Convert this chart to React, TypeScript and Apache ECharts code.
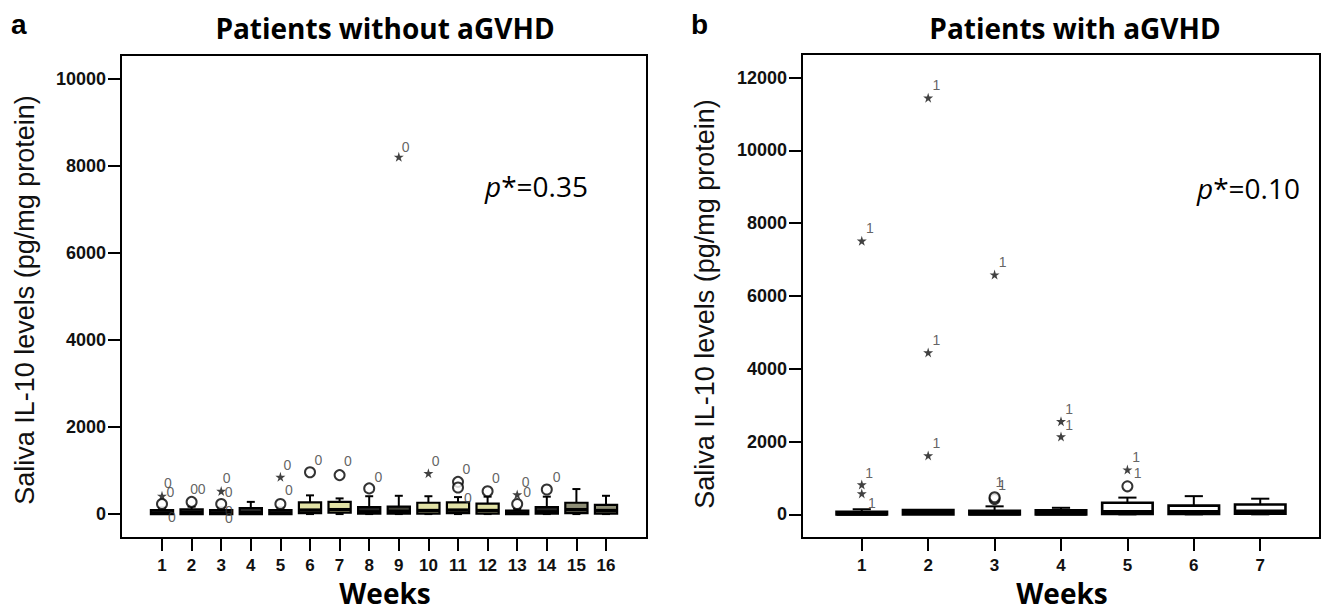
import React, { useEffect, useRef } from "react";
import * as echarts from "echarts";

// ---------- Panel a: patients without aGVHD ----------
const weeksA = [1, 2, 3, 4, 5, 6, 7, 8, 9, 10, 11, 12, 13, 14, 15, 16];
const minA = [0, 0, 0, 0, 0, 0, 0, 0, 0, 0, 0, 0, 0, 0, 0, 0];
const q1A = [0, 0, 0, 0, 0, 20, 30, 10, 10, 10, 20, 10, 0, 10, 20, 10];
const medA = [20, 30, 20, 30, 20, 90, 100, 50, 60, 80, 90, 80, 20, 50, 100, 80];
const q3A = [90, 110, 90, 140, 90, 270, 280, 160, 170, 260, 270, 240, 80, 160, 260, 210];
const maxA = [150, 170, 150, 280, 150, 430, 360, 410, 420, 410, 390, 400, 120, 400, 575, 420];
const circlesA = [[1, 230], [2, 280], [3, 230], [5, 230], [6, 960], [7, 895], [8, 590], [11, 740], [11, 610], [12, 525], [13, 230], [14, 565]];
const starsA = [[1, 420], [3, 530], [5, 855], [9, 8210], [10, 940], [13, 450]];
const caseLabelsA = [
  [1.22, 700], [1.3, 495], [1.35, -90],
  [2.1, 560], [2.36, 560],
  [3.2, 810], [3.27, 490], [3.28, 60], [3.28, -100],
  [5.25, 1120], [5.3, 550],
  [6.3, 1240], [7.3, 1200], [8.33, 850], [9.25, 8430],
  [10.26, 1200], [11.3, 1030], [11.35, 365], [12.3, 825],
  [13.3, 730], [13.35, 500], [14.35, 850],
];
const yTicksA = [0, 2000, 4000, 6000, 8000, 10000];

// ---------- Panel b: patients with aGVHD ----------
const weeksB = [1, 2, 3, 4, 5, 6, 7];
const minB = [0, 0, 0, 0, 0, 0, 0];
const q1B = [0, 0, 0, 0, 10, 10, 20];
const medB = [20, 50, 30, 30, 60, 60, 70];
const q3B = [70, 120, 100, 110, 320, 240, 270];
const maxB = [140, 120, 220, 180, 460, 500, 430];
const circlesB = [[3, 420], [3, 470], [5, 770]];
const starsB = [[1, 7520], [1, 820], [1, 575], [2, 11450], [2, 4450], [2, 1620], [3, 6590], [4, 2560], [4, 2140], [5, 1230]];
const caseLabelsB = [
  [1.13, 7850], [1.12, 1130], [1.16, 290],
  [2.13, 11780], [2.13, 4780], [2.13, 1950],
  [3.13, 6920], [3.08, 880], [3.12, 790],
  [4.13, 2890], [4.13, 2430],
  [5.14, 1560], [5.16, 1110],
];
const yTicksB = [0, 2000, 4000, 6000, 8000, 10000, 12000];

// ---------- styles (kept apart from the data) ----------
const DARK = "#262626";
const YEL = "#e2e2a6";
const OLIVE = "#8e8e76";
const fillsA = [DARK, DARK, DARK, DARK, DARK, YEL, YEL, DARK, "#3c3c34", YEL, YEL, YEL, DARK, DARK, OLIVE, OLIVE];
const fillsB = ["#ffffff", "#ffffff", "#ffffff", "#ffffff", "#ffffff", "#ffffff", "#ffffff"];

const STAR = "path://M50,0 L61,35 L98,35 L68,57 L79,91 L50,70 L21,91 L32,57 L2,35 L39,35 Z";

function boxRenderer(boxW: number, fills: string[], strokeW: number, medW: number) {
  return (params: any, api: any) => {
    const x = api.value(0);
    const mn = api.value(1);
    const q1 = api.value(2);
    const md = api.value(3);
    const q3 = api.value(4);
    const mx = api.value(5);
    const w = api.size([boxW, 0])[0];
    const capW = w * 0.36;
    const pMin = api.coord([x, mn]);
    const pQ1 = api.coord([x, q1]);
    const pMd = api.coord([x, md]);
    const pQ3 = api.coord([x, q3]);
    const pMax = api.coord([x, mx]);
    const cx = pMd[0];
    const st = { stroke: "#000", lineWidth: 2 };
    const children: any[] = [];
    if (mx > q3) {
      children.push({ type: "line", shape: { x1: cx, y1: pQ3[1], x2: cx, y2: pMax[1] }, style: st });
      children.push({ type: "line", shape: { x1: cx - capW / 2, y1: pMax[1], x2: cx + capW / 2, y2: pMax[1] }, style: st });
    }
    if (mn < q1) {
      children.push({ type: "line", shape: { x1: cx, y1: pQ1[1], x2: cx, y2: pMin[1] }, style: st });
      children.push({ type: "line", shape: { x1: cx - capW / 2, y1: pMin[1], x2: cx + capW / 2, y2: pMin[1] }, style: st });
    }
    children.push({
      type: "rect",
      shape: { x: cx - w / 2, y: pQ3[1], width: w, height: Math.max(pQ1[1] - pQ3[1], 1) },
      style: { fill: fills[params.dataIndex], stroke: "#000", lineWidth: strokeW },
    });
    children.push({ type: "line", shape: { x1: cx - w / 2, y1: pMd[1], x2: cx + w / 2, y2: pMd[1] }, style: { stroke: "#000", lineWidth: medW } });
    return { type: "group", children };
  };
}

function buildBoxData(weeks: number[], mn: number[], q1: number[], md: number[], q3: number[], mx: number[]) {
  return weeks.map((w, i) => [w, mn[i], q1[i], md[i], q3[i], mx[i]]);
}

export default function App() {
  const ref = useRef<HTMLDivElement>(null);
  useEffect(() => {
    if (!ref.current) return;
    const chart = echarts.init(ref.current, null, { renderer: "svg" });
    const axisFont = { fontFamily: "'Liberation Sans', Arial, sans-serif", fontSize: 17, fontWeight: "bold" as const, color: "#111" };
    const lineBlack = { color: "#000", width: 2 };
    const makeX = (gridIndex: number, min: number, max: number, ticks: number[]) => ({
      type: "value", gridIndex, min, max,
      axisLine: { show: true, onZero: false, lineStyle: lineBlack },
      axisTick: { show: true, length: 13, lineStyle: lineBlack, customValues: ticks },
      axisLabel: { ...axisFont, margin: 19, customValues: ticks, formatter: (v: number) => String(v) },
      splitLine: { show: false },
    });
    const makeY = (gridIndex: number, min: number, max: number, ticks: number[]) => ({
      type: "value", gridIndex, min, max,
      axisLine: { show: true, onZero: false, lineStyle: lineBlack },
      axisTick: { show: true, length: 13, lineStyle: lineBlack, customValues: ticks },
      axisLabel: { ...axisFont, fontSize: 18, margin: 15, customValues: ticks, formatter: (v: number) => String(v) },
      splitLine: { show: false },
    });
    const labelSeries = (xi: number, data: number[][], txt: string) => ({
      type: "scatter", xAxisIndex: xi, yAxisIndex: xi, data, symbolSize: 1, silent: true, z: 6,
      itemStyle: { color: "rgba(0,0,0,0)" },
      label: {
        show: true, position: [0, 0], align: "center", verticalAlign: "middle", formatter: txt,
        fontFamily: "'Liberation Sans', Arial, sans-serif", fontSize: 14, color: "#3a3a3a",
        textBorderWidth: 0,
      },
    });
    const circleSeries = (xi: number, data: number[][]) => ({
      type: "scatter", xAxisIndex: xi, yAxisIndex: xi, data, symbol: "circle", symbolSize: 10,
      itemStyle: { color: "#fff", borderColor: "#000", borderWidth: 2 }, z: 5,
    });
    const starSeries = (xi: number, data: number[][]) => ({
      type: "scatter", xAxisIndex: xi, yAxisIndex: xi, data, symbol: STAR, symbolSize: 10,
      itemStyle: { color: "#111" }, z: 5,
    });
    const boxSeries = (xi: number, data: number[][], bw: number, fills: string[], sw: number, mw: number) => ({
      type: "custom", xAxisIndex: xi, yAxisIndex: xi, data,
      encode: { x: 0, y: [1, 2, 3, 4, 5] },
      renderItem: boxRenderer(bw, fills, sw, mw), z: 3,
    });
    const titleFont = "'Open Sans', Lato, sans-serif";
    chart.setOption({
      animation: false,
      backgroundColor: "#fff",
      grid: [
        { left: 121, right: 678, top: 55, bottom: 74, show: true, borderColor: "#000", borderWidth: 2 },
        { left: 802, right: 5, top: 54, bottom: 74, show: true, borderColor: "#000", borderWidth: 2 },
      ],
      xAxis: [makeX(0, -0.385, 17.385, weeksA), makeX(1, 0.1, 7.9, weeksB)],
      yAxis: [makeY(0, -550, 10550, yTicksA), makeY(1, -650, 12650, yTicksB)],
      series: [
        boxSeries(0, buildBoxData(weeksA, minA, q1A, medA, q3A, maxA), 0.75, fillsA, 2.2, 3.5),
        circleSeries(0, circlesA),
        starSeries(0, starsA),
        labelSeries(0, caseLabelsA, "0"),
        boxSeries(1, buildBoxData(weeksB, minB, q1B, medB, q3B, maxB), 0.76, fillsB, 2.6, 4.5),
        circleSeries(1, circlesB),
        starSeries(1, starsB),
        labelSeries(1, caseLabelsB, "1"),
      ],
      graphic: [
        { type: "text", left: 11, top: 10, style: { text: "a", font: "bold 28px 'Liberation Sans', Arial", fill: "#000" } },
        { type: "text", left: 691, top: 10, style: { text: "b", font: "bold 28px 'Liberation Sans', Arial", fill: "#000" } },
        { type: "text", x: 385, y: 28, style: { text: "Patients without aGVHD", font: `bold 28px ${titleFont}`, fill: "#000", align: "center", verticalAlign: "middle" } },
        { type: "text", x: 1075, y: 28, style: { text: "Patients with aGVHD", font: `bold 28px ${titleFont}`, fill: "#000", align: "center", verticalAlign: "middle" } },
        { type: "text", x: 385, y: 593, style: { text: "Weeks", font: `bold 28px ${titleFont}`, fill: "#000", align: "center", verticalAlign: "middle" } },
        { type: "text", x: 1062, y: 593, style: { text: "Weeks", font: `bold 28px ${titleFont}`, fill: "#000", align: "center", verticalAlign: "middle" } },
        { type: "text", x: 25, y: 300, rotation: Math.PI / 2, style: { text: "Saliva IL-10 levels (pg/mg protein)", font: "27px 'Liberation Sans', Arial", fill: "#111", align: "center", verticalAlign: "middle" } },
        { type: "text", x: 705, y: 304, rotation: Math.PI / 2, style: { text: "Saliva IL-10 levels (pg/mg protein)", font: "27px 'Liberation Sans', Arial", fill: "#111", align: "center", verticalAlign: "middle" } },
        {
          type: "text", x: 485, y: 186,
          style: {
            text: "{i|p}{n|*=0.35}", verticalAlign: "middle",
            rich: { i: { font: `italic 28px ${titleFont}`, fill: "#000" }, n: { font: `28px ${titleFont}`, fill: "#000" } },
          },
        },
        {
          type: "text", x: 1197, y: 188,
          style: {
            text: "{i|p}{n|*=0.10}", verticalAlign: "middle",
            rich: { i: { font: `italic 28px ${titleFont}`, fill: "#000" }, n: { font: `28px ${titleFont}`, fill: "#000" } },
          },
        },
      ],
    });
    return () => chart.dispose();
  }, []);
  return <div ref={ref} style={{ position: "absolute", left: 0, top: 0, width: 1325, height: 612 }} />;
}
